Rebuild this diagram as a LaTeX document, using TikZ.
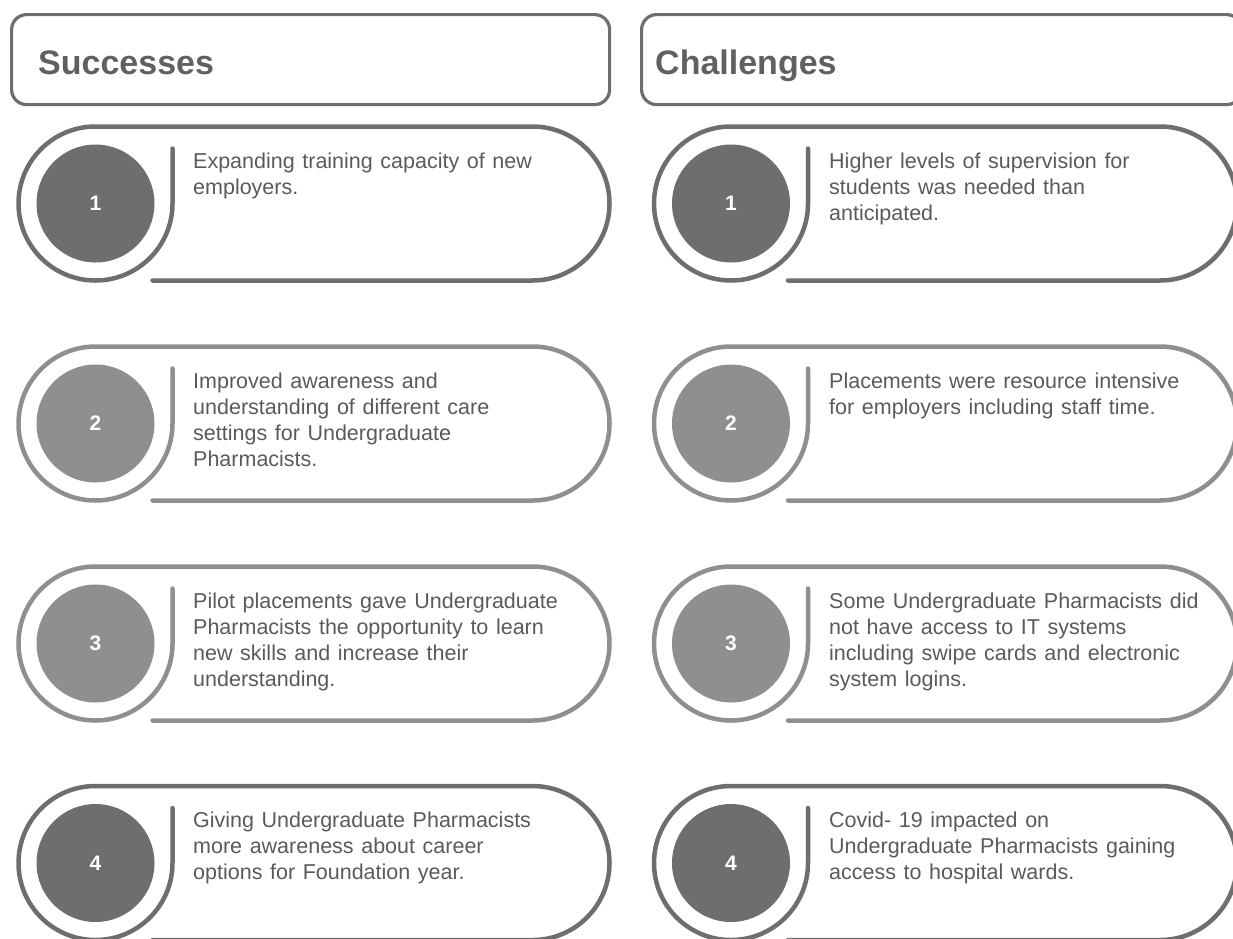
\documentclass[tikz,border=0pt]{standalone}
\usepackage{fontspec}
\setmainfont{Liberation Sans}
\definecolor{darkg}{HTML}{6E6E6E}
\definecolor{lightg}{HTML}{8F8F8F}
\definecolor{txtg}{HTML}{5A5A5A}
\definecolor{hdrg}{HTML}{606060}
\tikzset{
  hdrbox/.style={draw=darkg, line width=3.2pt, rounded corners=15pt, inner sep=0pt, anchor=north west},
  hdrtext/.style={anchor=base west, inner sep=0pt, text=hdrg, font=\fontsize{34}{36}\selectfont\bfseries},
  numdot/.style={circle, inner sep=0pt, minimum size=118pt, text=white, font=\fontsize{21}{21}\selectfont\bfseries},
  itemtext/.style={anchor=base west, inner sep=0pt, text=txtg, font=\fontsize{21.5}{26}\selectfont},
  outline/.style={line width=4.5pt, line cap=round, line join=round}
}
% #1 circle centre x, #2 centre y (image px, downward), #3 right arc centre x, #4 colour, #5 number, #6 name
\newcommand\pillitem[6]{%
  \draw[outline, #4]
    ({#1+77},{-#2+55}) -- ({#1+77},{-#2}) arc[start angle=0, end angle=-270, radius=77]
    -- ({#3},{-#2+77}) arc[start angle=90, end angle=-90, radius=77]
    -- ({#1+57},{-#2-77});
  \node[numdot, fill=#4] (#6) at ({#1},{-#2}) {#5};
}
\newcommand\itemlines[1]{\parbox[t]{420pt}{\raggedright\spaceskip=7.6pt plus 1pt\relax #1}}
\begin{document}
\begin{tikzpicture}[x=1pt,y=1pt]
\useasboundingbox (0,0) rectangle (1233,-938);
% headers
\node[hdrbox, minimum width=598pt, minimum height=90pt] (hsucc) at (10,-13) {};
\node[hdrtext] (tsucc) at (38,-74) {Successes};
\node[hdrbox, minimum width=600pt, minimum height=90pt] (hchal) at (640,-13) {};
\node[hdrtext] (tchal) at (655,-74) {Challenges};
% left column
\pillitem{95.5}{203.5}{532.5}{darkg}{1}{s1}
\pillitem{95.5}{423.5}{532.5}{lightg}{2}{s2}
\pillitem{95.5}{643.5}{532.5}{lightg}{3}{s3}
\pillitem{95.5}{863}{532.5}{darkg}{4}{s4}
\node[itemtext] (st1) at (193,-168) {\itemlines{Expanding training capacity of new\\employers.}};
\node[itemtext] (st2) at (193,-388) {\itemlines{Improved awareness and\\understanding of different care\\settings for Undergraduate\\Pharmacists.}};
\node[itemtext] (st3) at (193,-608) {\itemlines{Pilot placements gave Undergraduate\\Pharmacists the opportunity to learn\\new skills and increase their\\understanding.}};
\node[itemtext] (st4) at (193,-827.5) {\itemlines{Giving Undergraduate Pharmacists\\more awareness about career\\options for Foundation year.}};
% right column
\pillitem{731}{203.5}{1160}{darkg}{1}{c1}
\pillitem{731}{423.5}{1160}{lightg}{2}{c2}
\pillitem{731}{643.5}{1160}{lightg}{3}{c3}
\pillitem{731}{863}{1160}{darkg}{4}{c4}
\node[itemtext] (ct1) at (829,-168) {\itemlines{Higher levels of supervision for\\students was needed than\\anticipated.}};
\node[itemtext] (ct2) at (829,-388) {\itemlines{Placements were resource intensive\\for employers including staff time.}};
\node[itemtext] (ct3) at (829,-608) {\itemlines{Some Undergraduate Pharmacists did\\not have access to IT systems\\including swipe cards and electronic\\system logins.}};
\node[itemtext] (ct4) at (829,-827.5) {\itemlines{Covid- 19 impacted on\\Undergraduate Pharmacists gaining\\access to hospital wards.}};
\end{tikzpicture}
\end{document}
